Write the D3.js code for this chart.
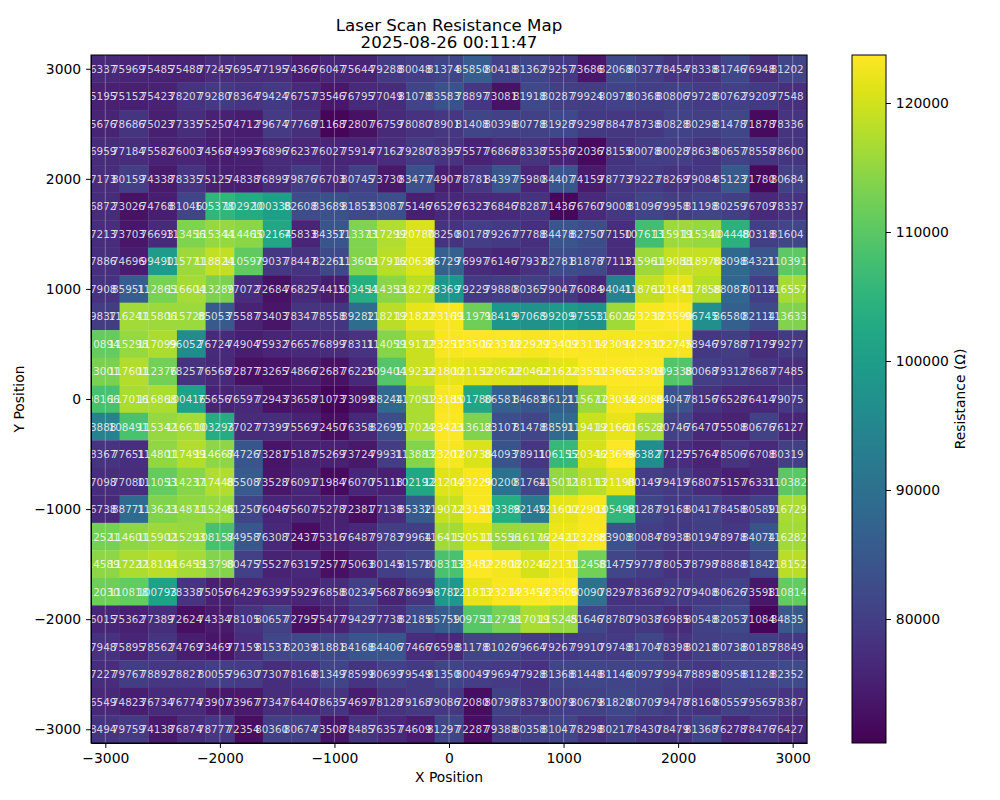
<!DOCTYPE html>
<html>
<head>
<meta charset="utf-8">
<script src="https://cdn.jsdelivr.net/npm/d3@7"></script>
<style>
  html, body { margin: 0; padding: 0; background: #fff; }
  text { font-family: "DejaVu Sans", sans-serif; fill: #000; }
  .tick text { font-size: 13.9px; }
  .domain, .tick line { stroke: #000; stroke-width: 1px; }
</style>
</head>
<body>
<div id="chart"></div>
<script>
// Step 1: the data
//=================================
var xPositions = [-3000, -2750, -2500, -2250, -2000, -1750, -1500, -1250, -1000, -750, -500, -250, 0,
  250, 500, 750, 1000, 1250, 1500, 1750, 2000, 2250, 2500, 2750, 3000];
var yPositions = [3000, 2750, 2500, 2250, 2000, 1750, 1500, 1250, 1000, 750, 500, 250, 0,
  -250, -500, -750, -1000, -1250, -1500, -1750, -2000, -2250, -2500, -2750, -3000];

var xTicks = [-3000, -2000, -1000, 0, 1000, 2000, 3000];
var yTicks = [3000, 2000, 1000, 0, -1000, -2000, -3000];
var colorTicks = [80000, 90000, 100000, 110000, 120000];
var colorRange = [70390, 123720];

// one row per y position, top row first
var resistance = [
  [76337,75969,75485,75488,77245,76954,77195,74366,76047,75644,79288,80048,81374,85850,80418,81362,79257,73686,82068,80377,78454,78338,81746,76948,81202],
  [75195,75152,75423,78207,79280,78364,79424,76757,73546,76795,77049,81078,83583,78897,73081,81918,80287,79924,80978,80368,80806,79728,80762,79209,77548],
  [75676,78686,75023,77335,75250,74712,79674,77768,71168,72807,76759,78080,78901,81408,80398,80778,81928,79298,78847,78738,80828,80298,81478,71878,78336],
  [76959,77184,75582,76003,74568,74993,76896,76237,76027,75914,77162,79280,78395,75577,76868,78338,75536,72036,78155,80078,80028,78638,80657,78558,78600],
  [77173,80159,74338,78335,75125,74838,76899,79876,76703,80745,73730,83477,74907,78781,84397,75980,84407,74159,78773,79227,78269,79084,85123,71780,80684],
  [76872,73026,74768,81046,105378,102920,100338,82608,83689,81853,83087,75146,76526,76323,76846,78287,71436,76760,79008,81096,79958,81198,80259,76709,78337],
  [77213,73703,76693,113456,115344,114465,102164,75833,84357,113373,117299,120780,78250,80178,79267,77788,84478,82750,77150,107613,115919,115340,104448,80318,81604],
  [77886,74696,99490,115771,118824,110597,79037,78447,82261,113609,117916,120638,86729,76997,76146,77937,82781,81878,77113,115961,119088,118970,88098,84321,110391],
  [77908,85951,112865,116604,113289,77072,72684,76825,74415,103454,114353,118272,98369,79229,79880,80365,79047,76084,94041,118761,121841,117858,88087,80114,116557],
  [79837,116241,115806,115728,85053,75587,73403,78347,78558,89282,118219,121822,123169,111971,98419,97068,99209,97553,116026,123238,123590,96745,86580,82114,113633],
  [110894,115298,117099,96052,76724,74904,75932,76657,76899,78311,114059,119172,123251,123506,123378,122929,123409,123114,123094,122930,122745,78946,79788,77179,79277],
  [113001,117601,112376,78257,76568,72877,73265,74866,72687,76225,109404,119232,121800,121152,120622,120462,121622,123551,123665,123309,109338,80068,79312,78687,77485],
  [108166,117016,116868,100416,75656,76597,72943,73658,71073,73099,88244,117051,123185,101780,86581,84683,86121,115677,123034,123088,84047,78156,76528,76414,79075],
  [93888,108491,115342,116610,103293,77027,77399,75569,72450,76358,82699,117024,123423,113612,83107,81478,88591,119419,121660,116522,80746,76470,75508,80676,76127],
  [78367,77651,114801,117499,114667,84726,73281,75187,75269,73724,79931,113883,123207,120738,84093,78911,106155,120346,123698,96382,77125,75764,78506,76708,80319],
  [77098,77080,111053,114237,117448,85508,73528,76091,71984,76070,75118,102192,121204,123229,90200,81764,115012,118113,121198,80149,79419,76807,75157,76331,110382],
  [76738,88771,113623,114871,115246,81250,76046,75607,75278,72381,77138,85332,119072,123151,103388,92149,121600,122903,105498,81287,79168,80417,78458,80589,116729],
  [112521,114601,115902,115293,108157,84958,76308,72437,75316,76487,79783,79964,116415,120511,115556,116176,122421,123288,83908,80084,78938,80194,78978,84074,116282],
  [114589,117222,118104,116459,113798,80475,75527,76315,72577,75063,80145,81578,108313,123482,122808,120246,122131,112458,81475,79778,78053,78798,78888,81842,118152],
  [112030,110818,100793,78338,75056,76429,76399,75929,76858,80234,75687,78699,98782,121813,123214,123454,123506,90090,78297,78368,79270,79408,80626,73598,110814],
  [76015,75362,77389,72624,74334,78105,80657,72795,75477,79429,77738,82185,85759,109751,112798,117019,115245,81646,78780,79038,76985,80548,82053,71084,84835],
  [77948,75895,78562,74769,73469,77159,81537,82039,81881,84168,84406,77466,76598,81178,81026,79664,79267,79910,79748,81704,78398,80218,80738,80185,78849],
  [77227,79767,78892,78827,80055,79630,77307,78168,81349,78599,80699,79549,81350,80049,79694,77928,81368,81448,81146,80979,79947,78898,80958,81128,82352],
  [76549,74823,76734,76774,73907,73967,77347,76440,78635,74697,78128,79168,79086,72080,80798,78379,80079,80679,81820,80709,79478,78160,80559,79565,78387],
  [78494,79759,74138,76874,78777,72354,80360,80674,73508,78485,76357,74609,81297,72287,79388,80358,81047,78298,80217,78430,78479,81368,76278,78476,76427]
];

// Step 2: set up the chart
//=================================
var svg_width = 1000;
var svg_height = 800;
var margin = { top: 55, right: 193, bottom: 57, left: 91 };
var width = svg_width - margin.left - margin.right;
var height = svg_height - margin.top - margin.bottom;
var cellStep = 250;

var svg = d3.select("#chart").append("svg")
  .attr("width", svg_width)
  .attr("height", svg_height)
  .style("display", "block");

var chartGroup = svg.append("g")
  .attr("transform", `translate(${margin.left}, ${margin.top})`);

var xScale = d3.scaleLinear().domain([-3125, 3125]).range([0, width]);
var yScale = d3.scaleLinear().domain([-3125, 3125]).range([height, 0]);
var colorScale = d3.scaleSequential(d3.interpolateViridis).domain(colorRange);

svg.append("defs").append("clipPath").attr("id", "plot-clip")
  .append("rect").attr("width", width).attr("height", height);

// Step 3: cells and their labels
//=================================
var cells = [];
yPositions.forEach(function(y, r) {
  xPositions.forEach(function(x, c) {
    cells.push({ x: x, y: y, value: resistance[r][c] });
  });
});

chartGroup.append("g").selectAll("rect").data(cells).enter().append("rect")
  .attr("x", d => xScale(d.x - cellStep / 2))
  .attr("y", d => yScale(d.y + cellStep / 2))
  .attr("width", xScale(cellStep) - xScale(0) + 0.3)
  .attr("height", yScale(0) - yScale(cellStep) + 0.3)
  .attr("fill", d => colorScale(d.value));

// faint vertical grid lines, only these show in the reference
chartGroup.append("g").selectAll("line").data(xTicks).enter().append("line")
  .attr("x1", d => xScale(d))
  .attr("x2", d => xScale(d))
  .attr("y1", 0)
  .attr("y2", height)
  .attr("stroke", "#fff")
  .attr("stroke-opacity", 0.3);

chartGroup.append("g").attr("clip-path", "url(#plot-clip)")
  .selectAll("text").data(cells).enter().append("text")
  .attr("x", d => xScale(d.x) - 5.5)
  .attr("y", d => yScale(d.y))
  .attr("text-anchor", "middle")
  .attr("dominant-baseline", "central")
  .style("font-size", "10.4px")
  .style("fill", "#fff")
  .style("fill-opacity", 0.8)
  .text(d => d.value);

// Step 4: axes
//=================================
var bottomAxis = d3.axisBottom(xScale).tickValues(xTicks).tickSize(4.9).tickSizeOuter(0).tickPadding(4.9)
  .tickFormat(d => String(d).replace("-", "\u2212"));
var leftAxis = d3.axisLeft(yScale).tickValues(yTicks).tickSize(4.9).tickSizeOuter(0).tickPadding(4.9)
  .tickFormat(d => String(d).replace("-", "\u2212"));

chartGroup.append("g")
  .attr("transform", `translate(0, ${height})`)
  .call(bottomAxis);
chartGroup.append("g").call(leftAxis);

chartGroup.append("rect")
  .attr("width", width)
  .attr("height", height)
  .attr("fill", "none")
  .attr("stroke", "#000");

svg.append("text")
  .attr("x", margin.left + width / 2)
  .attr("y", 31)
  .attr("text-anchor", "middle")
  .style("font-size", "16.67px")
  .text("Laser Scan Resistance Map");
svg.append("text")
  .attr("x", margin.left + width / 2)
  .attr("y", 48)
  .attr("text-anchor", "middle")
  .style("font-size", "16.67px")
  .text("2025-08-26 00:11:47");

svg.append("text")
  .attr("x", margin.left + width / 2)
  .attr("y", 782)
  .attr("text-anchor", "middle")
  .style("font-size", "13.9px")
  .text("X Position");
svg.append("text")
  .attr("transform", `translate(24, ${margin.top + height / 2}) rotate(-90)`)
  .attr("text-anchor", "middle")
  .style("font-size", "13.9px")
  .text("Y Position");

// Step 5: colorbar
//=================================
var barX = 852;
var barWidth = 34;
var gradient = svg.select("defs").append("linearGradient")
  .attr("id", "viridis-bar")
  .attr("x1", 0).attr("x2", 0).attr("y1", 1).attr("y2", 0);
d3.range(0, 1.01, 0.05).forEach(function(t) {
  gradient.append("stop")
    .attr("offset", t)
    .attr("stop-color", d3.interpolateViridis(t));
});

var colorAxisScale = d3.scaleLinear().domain(colorRange).range([height, 0]);
var barGroup = svg.append("g")
  .attr("transform", `translate(${barX}, ${margin.top})`);
barGroup.append("rect")
  .attr("width", barWidth)
  .attr("height", height)
  .attr("fill", "url(#viridis-bar)")
  .attr("stroke", "#000");
barGroup.append("g")
  .attr("transform", `translate(${barWidth}, 0)`)
  .call(d3.axisRight(colorAxisScale).tickValues(colorTicks).tickFormat(d3.format("d")).tickSize(4.9).tickPadding(4.9).tickSizeOuter(0))
  .select(".domain").remove();

svg.append("text")
  .attr("transform", `translate(965, ${margin.top + height / 2}) rotate(-90)`)
  .attr("text-anchor", "middle")
  .style("font-size", "13.9px")
  .text("Resistance (\u03a9)");
</script>
</body>
</html>
